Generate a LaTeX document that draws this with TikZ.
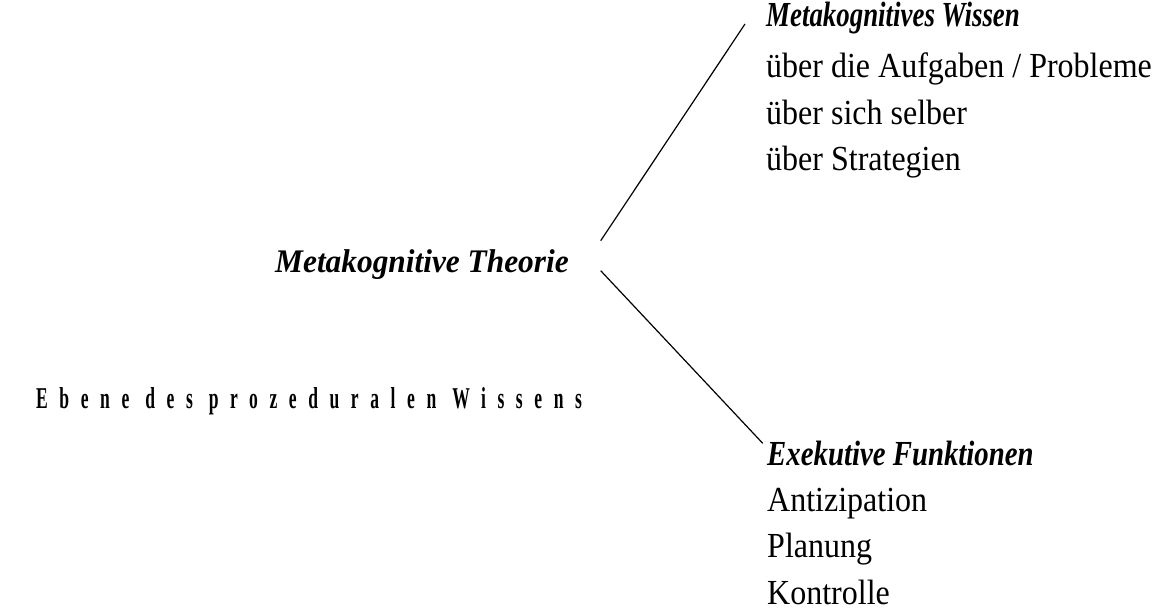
\documentclass[tikz,border=0pt]{standalone}
\usepackage{fontspec}
\setmainfont{Liberation Serif}
\usepackage{graphicx}
\usetikzlibrary{positioning}
\newcommand{\tall}[2][1]{\scalebox{#1}[1.1]{#2}}
\tikzset{
  head/.style={anchor=base west, inner sep=0pt, text height=30pt, text depth=16pt,
    font=\fontsize{32}{46}\selectfont\bfseries\itshape},
  item/.style={inner sep=0pt, text height=30pt, text depth=16pt,
    font=\fontsize{32}{46}\selectfont},
  branch/.style={black, line width=1.2pt},
}
\begin{document}
\begin{tikzpicture}[x=1pt,y=-1pt]
        \useasboundingbox (0,0) rectangle (1158,612);
        % nodes (left side)
        \node[anchor=base west, inner sep=0pt] (ebene) at (36,408)
          {\fontsize{27}{27}\selectfont\bfseries\addfontfeature{LetterSpace=66}\scalebox{0.65}[1.12]{Ebene des prozeduralen Wissens}};
        \node[head] (theorie) at (275,272) {\scalebox{0.98}[1.03]{Metakognitive Theorie}};
        % nodes (upper branch)
        \node[head] (wissen) at (766,27) {\tall[0.84]{Metakognitives Wissen}};
        \node[item, anchor=base west] (aufgaben) at (766,78) {\tall{über die Aufgaben / Probleme}};
        \node[item, below=0pt of aufgaben.south west, anchor=north west] (selber) {\tall{über sich selber}};
        \node[item, below=0pt of selber.south west, anchor=north west] (strategien) {\tall{über Strategien}};
        % nodes (lower branch)
        \node[head] (exekutive) at (767,465) {\tall[0.9]{Exekutive Funktionen}};
        \node[item, below=0pt of exekutive.south west, anchor=north west] (antizipation) {\tall{Antizipation}};
        \node[item, below=0pt of antizipation.south west, anchor=north west] (planung) {\tall{Planung}};
        \node[item, below=0pt of planung.south west, anchor=north west] (kontrolle) {\tall{Kontrolle}};
        % edges
        \coordinate (up-start) at (600.7,240.7);
        \coordinate (up-end) at (745,24);
        \coordinate (down-start) at (600.7,270.7);
        \coordinate (down-end) at (762.7,443.3);
        \draw[branch] (up-start) -- (up-end);
        \draw[branch] (down-start) -- (down-end);
\end{tikzpicture}
\end{document}
